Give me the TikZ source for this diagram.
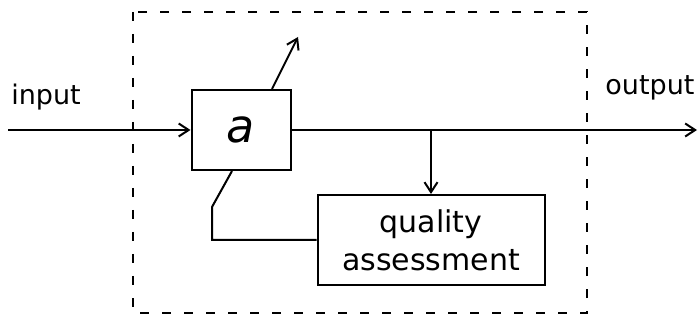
\documentclass[tikz,border=0pt]{standalone}
\usepackage{fontspec}
\setsansfont{DejaVu Sans}
\usetikzlibrary{arrows.meta,positioning}

\begin{document}
\begin{tikzpicture}[
    x=1pt, y=-1pt,
    block/.style={rectangle, draw, line width=2pt, align=center,
                  font=\sffamily\fontsize{30}{38}\selectfont},
    arrow/.style={-{Straight Barb[length=10pt,width=13pt,line width=2pt]}, line width=2pt},
    wire/.style={line width=2pt},
    lbl/.style={font=\sffamily\fontsize{27}{30}\selectfont},
    frame/.style={dash pattern=on 9pt off 13pt, line width=1.8pt}
  ]
  \useasboundingbox (0,0) rectangle (699,331);

  % ---- System boundary ----
  \draw[frame] (133,12) rectangle (587,313);

  % ---- Blocks ----
  \node[block, minimum width=99pt, minimum height=80pt,
        font=\sffamily\itshape\fontsize{46}{46}\selectfont] (filt) at (241,130) {a};
  \node[block, minimum width=227pt, minimum height=90pt] (qual) at (431,240) {quality\\assessment};

  % ---- Terminals ----
  \coordinate (in)   at (8,130);
  \coordinate (out)  at (697,130);
  \coordinate (tune) at (298,37);
  \coordinate (fb)   at (212,207);
  \coordinate (tap)  at (filt.east -| qual.north);

  \node[lbl] (inlbl) at (46,97) {input};
  \node[lbl, anchor=east] (outlbl) at (698,88) {output};

  % ---- Arrows ----
  \draw[arrow] (in) -- (filt.west);
  \draw[arrow] (filt.east) -- (out);
  \draw[arrow] (tap) -- (qual.north);
  \draw[arrow] ([xshift=31pt]filt.north) -- (tune);
  \draw[wire] (qual.west) -| (fb) -- ([xshift=-9pt]filt.south);
\end{tikzpicture}
\end{document}
